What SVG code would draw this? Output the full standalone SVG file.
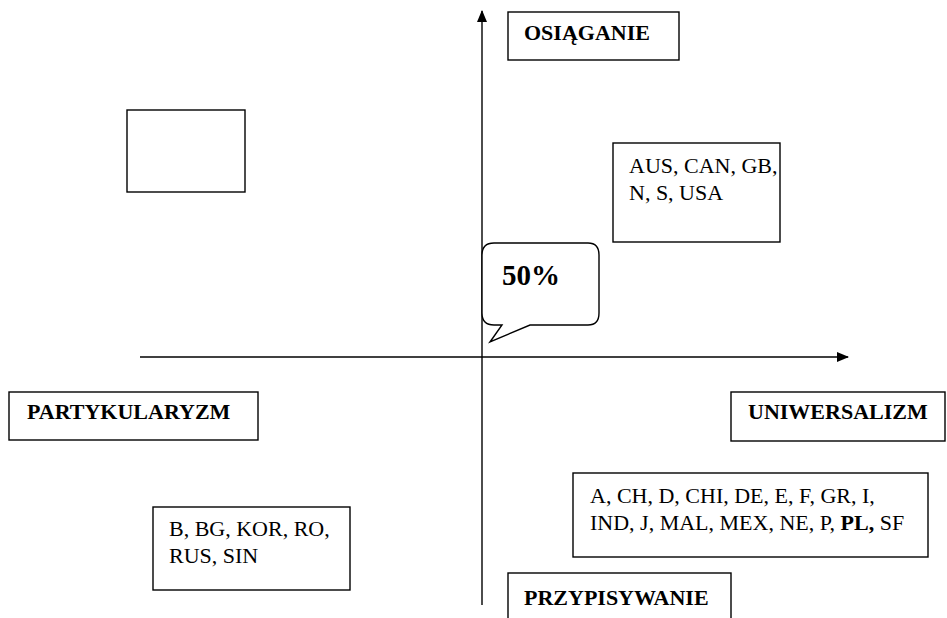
<svg xmlns="http://www.w3.org/2000/svg" width="947" height="618" viewBox="0 0 947 618" font-family="'Liberation Serif', 'DejaVu Serif', serif">
<style>
text{font-family:'Liberation Serif','DejaVu Serif',serif;font-size:22px;fill:#000}
.box{fill:#fff;stroke:#000;stroke-width:1.4}
.b{font-weight:bold}
.ax{stroke:#000;stroke-width:1.4;fill:none}
</style>
<defs>
<marker id="ah" markerWidth="12" markerHeight="10" refX="11" refY="5" orient="auto" markerUnits="userSpaceOnUse">
<path d="M0,0 L12,5 L0,10 Z" fill="#000"/>
</marker>
</defs>
<rect width="947" height="618" fill="#fff"/>
<g id="connectors">
<line class="ax" x1="482" y1="605" x2="482" y2="11" marker-end="url(#ah)"/>
<line class="ax" x1="140" y1="357" x2="848" y2="357" marker-end="url(#ah)"/>
</g>
<g id="osiaganie">
<rect class="box" x="508" y="12" width="171" height="48"/>
<text class="b" x="524" y="40">OSIĄGANIE</text>
</g>
<g id="empty">
<rect class="box" x="127" y="110" width="118" height="82"/>
</g>
<g id="aus">
<rect class="box" x="613" y="143" width="167" height="99"/>
<text x="629" y="173">AUS, CAN, GB,</text>
<text x="629" y="200">N, S, USA</text>
</g>
<g id="bubble">
<path d="M494,243 H588 Q599,243 599,255 V313 Q599,325 588,325 H530 L490,342 L502,325 H494 Q482,325 482,313 V255 Q482,243 494,243 Z" fill="#fff" stroke="#000" stroke-width="1.4"/>
<text class="b" x="502" y="285" style="font-size:29px">50%</text>
</g>
<g id="partykularyzm">
<rect class="box" x="9" y="392" width="249" height="48"/>
<text class="b" x="27" y="419">PARTYKULARYZM</text>
</g>
<g id="uniwersalizm">
<rect class="box" x="731" y="392" width="214" height="49"/>
<text class="b" x="748" y="419">UNIWERSALIZM</text>
</g>
<g id="group-a">
<rect class="box" x="573" y="473" width="355" height="84"/>
<text x="590" y="503">A, CH, D, CHI, DE, E, F, GR, I,</text>
<text x="590" y="530">IND, J, MAL, MEX, NE, P, <tspan class="b">PL,</tspan> SF</text>
</g>
<g id="group-b">
<rect class="box" x="153" y="507" width="197" height="83"/>
<text x="169" y="536">B, BG, KOR, RO,</text>
<text x="169" y="563">RUS, SIN</text>
</g>
<g id="przypisywanie">
<rect class="box" x="508" y="573" width="223" height="50"/>
<text class="b" x="524" y="605">PRZYPISYWANIE</text>
</g>
</svg>
